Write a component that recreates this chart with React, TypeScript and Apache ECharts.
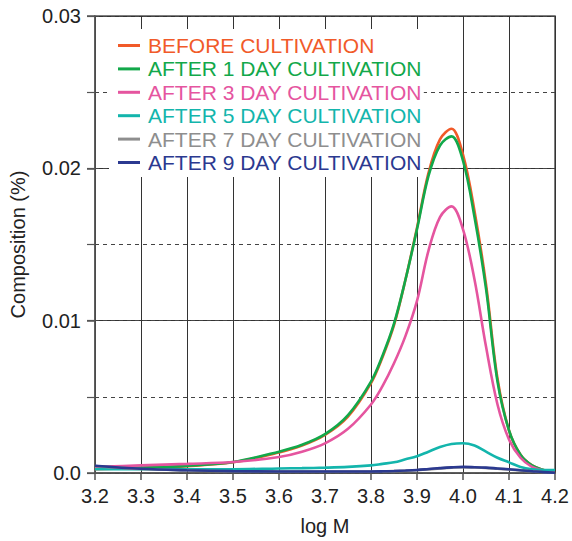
import React, { useEffect, useRef } from "react";
import * as echarts from "echarts";

const logM = [3.2, 3.3, 3.4, 3.5, 3.6, 3.65, 3.7, 3.75, 3.8, 3.825, 3.85, 3.875, 3.9, 3.925, 3.95, 3.975, 4.0, 4.025, 4.05, 4.075, 4.1, 4.125, 4.15, 4.175, 4.2];

const before = [0.00025, 0.00033, 0.00045, 0.0007, 0.00135, 0.0018, 0.0025, 0.0037, 0.0059, 0.0076, 0.0097, 0.0127, 0.0161, 0.0197, 0.0219, 0.0226, 0.0209, 0.0172, 0.0124, 0.0062, 0.0028, 0.0012, 0.0005, 0.0002, 0.0];
const day1 = [0.0003, 0.00035, 0.00047, 0.00072, 0.0014, 0.00185, 0.00255, 0.0038, 0.006, 0.0077, 0.0098, 0.0127, 0.016, 0.0195, 0.0215, 0.0221, 0.0205, 0.0168, 0.0121, 0.006, 0.0028, 0.0012, 0.0005, 0.0002, 0.0];
const day3 = [0.0004, 0.0005, 0.0006, 0.00072, 0.00105, 0.0014, 0.00195, 0.0029, 0.0045, 0.0057, 0.0072, 0.009, 0.0113, 0.0146, 0.0168, 0.0175, 0.016, 0.0127, 0.0083, 0.0045, 0.0022, 0.001, 0.0004, 0.00015, 0.0];
const day5 = [0.00025, 0.00025, 0.00025, 0.00025, 0.0003, 0.00032, 0.00035, 0.0004, 0.0005, 0.0006, 0.0007, 0.0009, 0.0011, 0.0014, 0.0017, 0.0019, 0.00195, 0.0018, 0.0014, 0.001, 0.0007, 0.0004, 0.00025, 0.0002, 0.0002];
const day7 = [0.00045, 0.00026, 0.00017, 0.00011, 0.0001, 0.0001, 0.0001, 0.0001, 0.0001, 0.00011, 0.00012, 0.00015, 0.00019, 0.00024, 0.0003, 0.00035, 0.00038, 0.00036, 0.00033, 0.00028, 0.00023, 0.00017, 0.00011, 0.00005, 0.00002];
const day9 = [0.00048, 0.00028, 0.00018, 0.00012, 0.0001, 0.0001, 0.0001, 0.0001, 0.0001, 0.00011, 0.00013, 0.00016, 0.0002, 0.00026, 0.00032, 0.00037, 0.0004, 0.00038, 0.00035, 0.0003, 0.00025, 0.00018, 0.00012, 0.00006, 0.00002];

const seriesNames = [
  "BEFORE CULTIVATION",
  "AFTER 1 DAY CULTIVATION",
  "AFTER 3 DAY CULTIVATION",
  "AFTER 5 DAY CULTIVATION",
  "AFTER 7 DAY CULTIVATION",
  "AFTER 9 DAY CULTIVATION",
];
const seriesValues = [before, day1, day3, day5, day7, day9];
const seriesColors = ["#F15A29", "#12A84A", "#E5559F", "#13B5AC", "#8E8E8E", "#2B3990"];

const FONT = "Liberation Sans, Arial, Helvetica, sans-serif";

export default function App() {
  const ref = useRef<HTMLDivElement>(null);
  useEffect(() => {
    if (!ref.current) return;
    const chart = echarts.init(ref.current, undefined, { renderer: "svg" });
    const series = seriesNames.map((name, i) => ({
      name,
      type: "line",
      data: logM.map((x, j) => [x, seriesValues[i][j]]),
      smooth: 0.35,
      showSymbol: false,
      symbol: "none",
      lineStyle: { color: seriesColors[i], width: 2.6 },
      itemStyle: { color: seriesColors[i] },
      z: 6,
    }));
    chart.setOption({
      animation: false,
      grid: {
        left: 95,
        right: 17,
        top: 16,
        bottom: 66,
        show: true,
        borderColor: "#555",
        borderWidth: 1.5,
        backgroundColor: "transparent",
      },
      legend: {
        left: 109,
        top: 29,
        orient: "vertical",
        icon: "rect",
        itemWidth: 22,
        itemHeight: 3,
        itemGap: 2.4,
        padding: [6, 2, 4, 9],
        backgroundColor: "#fff",
        z: 4,
        textStyle: { fontFamily: FONT, fontSize: 21, lineHeight: 21, padding: [0, 0, 0, 3] },
        data: seriesNames.map((n, i) => ({ name: n, textStyle: { color: seriesColors[i] } })),
      },
      xAxis: {
        type: "value",
        min: 3.2,
        max: 4.2,
        interval: 0.1,
        name: "log M",
        nameLocation: "middle",
        nameGap: 43,
        nameTextStyle: { fontFamily: FONT, fontSize: 20, color: "#222" },
        axisLine: { show: true, onZero: false, lineStyle: { color: "#555", width: 1.5 } },
        axisTick: { show: true, inside: false, length: 7, lineStyle: { color: "#555", width: 1.5 } },
        axisLabel: {
          fontFamily: FONT,
          fontSize: 20,
          color: "#222",
          margin: 13,
          formatter: (v: number) => v.toFixed(1),
        },
        splitLine: { show: true, lineStyle: { color: "#333", width: 1, type: "solid" } },
      },
      yAxis: [
        {
          type: "value",
          min: 0,
          max: 0.03,
          interval: 0.01,
          name: "Composition (%)",
          nameLocation: "middle",
          nameGap: 67,
          nameTextStyle: { fontFamily: FONT, fontSize: 20, color: "#222" },
          axisLine: { show: true, lineStyle: { color: "#555", width: 1.5 } },
          axisTick: { show: true, inside: false, length: 8, lineStyle: { color: "#555", width: 1.5 } },
          axisLabel: {
            fontFamily: FONT,
            fontSize: 20,
            color: "#222",
            margin: 14,
            formatter: (v: number) => (v === 0 ? "0.0" : v.toFixed(2)),
          },
          splitLine: { show: true, lineStyle: { color: "#333", width: 1, type: "solid" } },
        },
        {
          type: "value",
          position: "left",
          offset: 0,
          min: 0,
          max: 0.03,
          interval: 0.005,
          axisLine: { show: false },
          axisTick: { show: true, inside: false, length: 8, lineStyle: { color: "#555", width: 1.2 } },
          axisLabel: { show: false },
          splitLine: { show: true, lineStyle: { color: "#444", width: 1, type: [4, 4] } },
        },
      ],
      series,
    });
    return () => chart.dispose();
  }, []);
  return (
    <div
      ref={ref}
      style={{ position: "fixed", left: 0, top: 0, width: 572, height: 541, background: "#fff" }}
    />
  );
}
